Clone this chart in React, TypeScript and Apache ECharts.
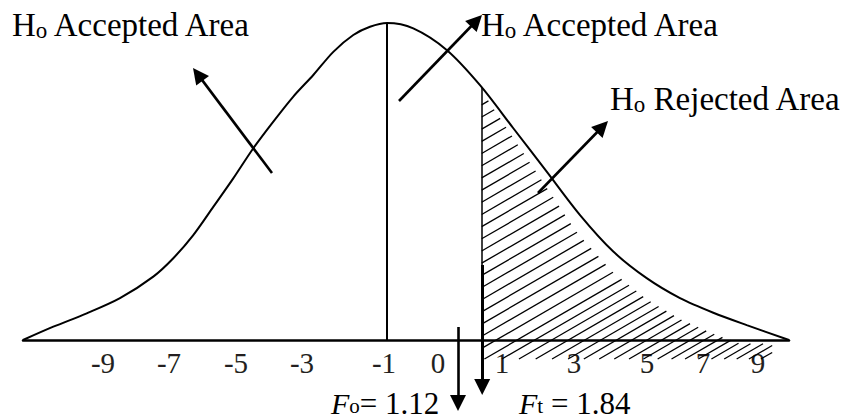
import React, { useEffect, useRef } from "react";
import * as echarts from "echarts";

// Bell curve sampled along the drawn baseline (x: 0..100 across the axis, y: 0 = baseline, 100 = peak)
const CURVE_X = [0, 3.96, 8.32, 12.66, 17.01, 19.62, 22.23, 24.84, 27.45, 30.07, 32.68, 35.29, 37.9, 40.51, 43.12, 45.3, 47.52, 50.95, 55.31, 59.66, 64.01, 68.37, 72.72, 77.06, 81.42, 85.77, 90.12, 94.48, 100];
const CURVE_Y = [0, 4.2, 8.4, 13.2, 20.0, 25.8, 33.1, 42.0, 51.0, 60.5, 68.9, 76.8, 83.6, 90.9, 96.2, 98.8, 100, 98.3, 91.5, 80.4, 66.8, 53.1, 39.4, 27.9, 19.5, 13.2, 8.6, 4.7, 0];

// Tick labels and where they sit on the axis
const TICK_LABELS = ["-9", "-7", "-5", "-3", "-1", "0", "1", "3", "5", "7", "9"];
const TICK_POS = [10.44, 19.06, 27.81, 36.42, 47.13, 54.18, 62.53, 71.93, 81.46, 88.77, 95.95];

// Key positions on the axis
const PEAK_X = 47.55;
const F_T_X = 59.88; // critical value 1.84
const F_O_X = 56.79; // observed value 1.12
const F_O_TEXT = "= 1.12";
const F_T_TEXT = " = 1.84";

const TEXT_COLOR = "#231f20";
const SERIF = "'Liberation Serif', 'Times New Roman', serif";

// layout: pixels per axis unit
const GRID_LEFT = 23;
const GRID_BOTTOM_PX = 340;
const PXU = 7.66;
const PXV = 3.17;

function curveAt(u: number): number {
  if (u <= CURVE_X[0]) return CURVE_Y[0];
  for (let i = 1; i < CURVE_X.length; i++) {
    if (u <= CURVE_X[i]) {
      const t = (u - CURVE_X[i - 1]) / (CURVE_X[i] - CURVE_X[i - 1]);
      return CURVE_Y[i - 1] + t * (CURVE_Y[i] - CURVE_Y[i - 1]);
    }
  }
  return CURVE_Y[CURVE_Y.length - 1];
}

function buildHatch() {
  const slopePx = 0.58;
  const k = (slopePx * PXU) / PXV;
  const VB = -6;
  const UMAX = 97.8;
  const topAt = (u: number) => {
    const g = 1.2 + 5.5 * Math.min(1, Math.max(0, (u - F_T_X) / 12));
    return Math.max(curveAt(u) - g, VB + 4.8);
  };
  const segs: any[] = [];
  const startX0 = F_T_X - (curveAt(F_T_X) - VB) / k;
  let x0 = startX0 + 1.2;
  while (x0 < UMAX) {
    let us: number, vs: number;
    if (x0 < F_T_X) {
      us = F_T_X;
      vs = VB + k * (F_T_X - x0);
    } else {
      us = x0;
      vs = VB;
    }
    if (vs < topAt(us)) {
      let u = us;
      while (u < UMAX && VB + k * (u - x0) < topAt(u)) u += 0.02;
      if (u - us > 0.3) segs.push({ coords: [[us, vs], [u, VB + k * (u - x0)]] });
    }
    const frac = Math.max(0, (x0 - F_T_X) / (UMAX - F_T_X));
    const stepPx = x0 < F_T_X ? 21 : 17.5 - 6 * frac;
    x0 += stepPx / PXU;
  }
  return segs;
}

// convert a picture position to axis units
function px(x: number, y: number): [number, number] {
  return [(x - GRID_LEFT) / PXU, (GRID_BOTTOM_PX - y) / PXV];
}

// arrow from start to tip (pixels); the head symbol is centred on the line end, so pull it back
function arrow(sx: number, sy: number, tx: number, ty: number, head = 16) {
  const dx = tx - sx, dy = ty - sy;
  const len = Math.hypot(dx, dy);
  const ex = tx - (dx / len) * head * 0.5;
  const ey = ty - (dy / len) * head * 0.5;
  return { coords: [px(sx, sy), px(ex, ey)] };
}

export default function App() {
  const ref = useRef<HTMLDivElement>(null);
  useEffect(() => {
    if (!ref.current) return;
    const chart = echarts.init(ref.current, undefined, { renderer: "svg" });
    const curveData = CURVE_X.map((x, i) => [x, CURVE_Y[i]]);

    const foPx = F_O_X * PXU + GRID_LEFT;
    const ftPx = F_T_X * PXU + GRID_LEFT + 0.5;
    const arrows = [
      arrow(272, 173, 193, 68),
      arrow(399, 101, 482, 15),
      arrow(538, 193, 608, 121),
      arrow(foPx, 327, foPx, 411),
    ];
    const ftArrow = [arrow(ftPx, 265, ftPx, 395)];
    const peakLine = [{ coords: [[PEAK_X, 100], [PEAK_X, 0]] }];
    const critLine = [{ coords: [[F_T_X, curveAt(F_T_X)], [F_T_X, -1]] }];

    const labelRich = {
      a: { fontSize: 33, fontFamily: SERIF, color: TEXT_COLOR },
      b: { fontSize: 23, fontFamily: SERIF, color: TEXT_COLOR, verticalAlign: "bottom" },
    };
    const fRich = {
      f: { fontSize: 30, lineHeight: 26, fontFamily: SERIF, fontStyle: "italic", color: TEXT_COLOR },
      s: { fontSize: 21, lineHeight: 13, fontFamily: SERIF, color: TEXT_COLOR, verticalAlign: "bottom" },
      n: { fontSize: 31, lineHeight: 26, fontFamily: SERIF, color: TEXT_COLOR },
    };

    chart.setOption({
      animation: false,
      grid: { left: GRID_LEFT, right: 52, top: 0, bottom: 79, outerBoundsMode: "none", containLabel: false },
      xAxis: {
        type: "value",
        min: 0,
        max: 100,
        axisLine: { lineStyle: { color: "#000", width: 2.5 } },
        axisTick: { show: false },
        splitLine: { show: false },
        axisLabel: {
          customValues: TICK_POS,
          margin: 8,
          fontSize: 29,
          fontFamily: SERIF,
          color: TEXT_COLOR,
          formatter: (v: number) => {
            const i = TICK_POS.findIndex((p) => Math.abs(p - v) < 0.01);
            return i >= 0 ? TICK_LABELS[i] : "";
          },
        },
      },
      yAxis: { type: "value", min: 0, max: GRID_BOTTOM_PX / PXV, show: false },
      series: [
        {
          type: "lines",
          coordinateSystem: "cartesian2d",
          data: buildHatch(),
          lineStyle: { color: "#000", width: 1.3, opacity: 1 },
          silent: true,
          clip: false,
        },
        {
          type: "line",
          data: curveData,
          smooth: 0.3,
          showSymbol: false,
          lineStyle: { color: "#000", width: 2 },
          clip: false,
        },
        {
          type: "lines",
          coordinateSystem: "cartesian2d",
          data: peakLine,
          lineStyle: { color: "#000", width: 2, opacity: 1 },
          clip: false,
        },
        {
          type: "lines",
          coordinateSystem: "cartesian2d",
          data: critLine,
          lineStyle: { color: "#000", width: 1.5, opacity: 1 },
          clip: false,
        },
        {
          type: "lines",
          coordinateSystem: "cartesian2d",
          data: arrows,
          symbol: ["none", "triangle"],
          symbolSize: 16,
          lineStyle: { color: "#000", width: 2.6, opacity: 1 },
          itemStyle: { color: "#000" },
          clip: false,
        },
        {
          type: "lines",
          coordinateSystem: "cartesian2d",
          data: ftArrow,
          symbol: ["none", "triangle"],
          symbolSize: 16,
          lineStyle: { color: "#000", width: 3, opacity: 1 },
          itemStyle: { color: "#000" },
          clip: false,
        },
      ],
      graphic: [
        { type: "text", x: 12, y: 25, style: { text: "{a|H}{b|o}{a| Accepted Area}", rich: labelRich, verticalAlign: "middle", align: "left" } },
        { type: "text", x: 481, y: 25, style: { text: "{a|H}{b|o}{a| Accepted Area}", rich: labelRich, verticalAlign: "middle", align: "left" } },
        { type: "text", x: 610, y: 99, style: { text: "{a|H}{b|o}{a| Rejected Area}", rich: labelRich, verticalAlign: "middle", align: "left" } },
        { type: "text", x: 331, y: 403, style: { text: "{f|F}{s|o}{n|" + F_O_TEXT + "}", rich: fRich, verticalAlign: "middle", align: "left" } },
        { type: "text", x: 519, y: 403, style: { text: "{f|F}{s|t}{n|" + F_T_TEXT + "}", rich: fRich, verticalAlign: "middle", align: "left" } },
      ],
    });
    return () => chart.dispose();
  }, []);
  return <div ref={ref} style={{ position: "fixed", left: 0, top: 0, width: 841, height: 419, background: "#fff" }} />;
}
